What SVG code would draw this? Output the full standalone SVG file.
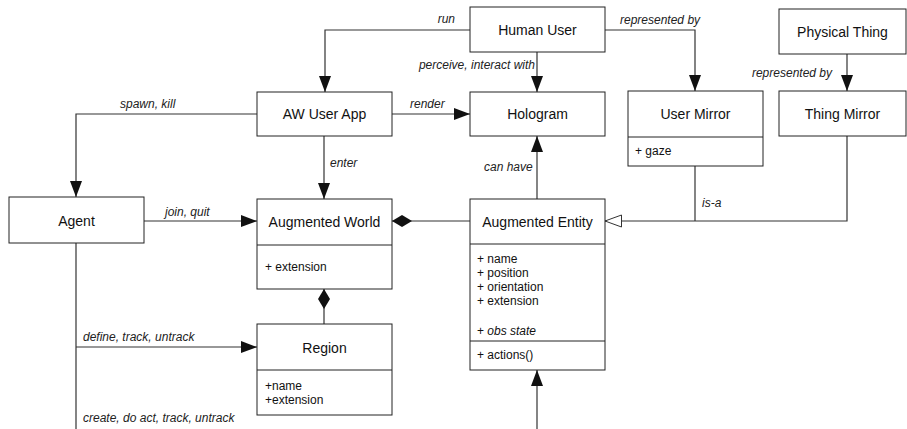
<svg xmlns="http://www.w3.org/2000/svg" width="907" height="429" viewBox="0 0 907 429">
<style>
.box{fill:#fff;stroke:#222;stroke-width:1}
.div{stroke:#222;stroke-width:1}
.t{font-family:"Liberation Sans",Arial,sans-serif;font-size:14px;fill:#111;text-anchor:middle}
.a{font-family:"Liberation Sans",Arial,sans-serif;font-size:12px;fill:#111}
.l{font-family:"Liberation Sans",Arial,sans-serif;font-size:12px;font-style:italic;fill:#222}
.c{fill:none;stroke:#333;stroke-width:1.2}
</style>
<defs>
<marker id="arr" markerUnits="userSpaceOnUse" markerWidth="16" markerHeight="12" refX="16" refY="6" orient="auto"><path d="M0,0 L16,6 L0,12 z" fill="#111"/></marker>
<marker id="dia" markerUnits="userSpaceOnUse" markerWidth="20" markerHeight="12" refX="0" refY="6" orient="auto"><path d="M0,6 L10,0 L20,6 L10,12 z" fill="#111"/></marker>
<marker id="tri" markerUnits="userSpaceOnUse" markerWidth="18" markerHeight="14" refX="17" refY="7" orient="auto"><path d="M0.5,1 L17,7 L0.5,13 z" fill="#fff" stroke="#333" stroke-width="1"/></marker>
</defs>
<g id="connectors">
<path class="c" d="M470,30 H325 V92" marker-end="url(#arr)"/>
<path class="c" d="M537,52 V92" marker-end="url(#arr)"/>
<path class="c" d="M605,30 H695 V91" marker-end="url(#arr)"/>
<path class="c" d="M847,54 V91" marker-end="url(#arr)"/>
<path class="c" d="M392,114 H470" marker-end="url(#arr)"/>
<path class="c" d="M324,136 V199" marker-end="url(#arr)"/>
<path class="c" d="M257,114 H76 V197" marker-end="url(#arr)"/>
<path class="c" d="M144,221 H257" marker-end="url(#arr)"/>
<path class="c" d="M392,221 H470" marker-start="url(#dia)"/>
<path class="c" d="M537,199 V136" marker-end="url(#arr)"/>
<path class="c" d="M324,289 V324" marker-start="url(#dia)"/>
<path class="c" d="M76,243 V429"/>
<path class="c" d="M76,347 H257" marker-end="url(#arr)"/>
<path class="c" d="M537,429 V370" marker-end="url(#arr)"/>
<path class="c" d="M695,166 V221"/>
<path class="c" d="M847,136 V221 H605" marker-end="url(#tri)"/>
<text class="l" x="455" y="23" text-anchor="end">run</text>
<text class="l" x="535" y="69" text-anchor="end">perceive, interact with</text>
<text class="l" x="620" y="24">represented by</text>
<text class="l" x="832" y="77" text-anchor="end">represented by</text>
<text class="l" x="410" y="108">render</text>
<text class="l" x="120" y="108">spawn, kill</text>
<text class="l" x="330" y="167">enter</text>
<text class="l" x="165" y="216">join, quit</text>
<text class="l" x="484" y="171">can have</text>
<text class="l" x="702" y="207">is-a</text>
<text class="l" x="83" y="341">define, track, untrack</text>
<text class="l" x="83" y="422">create, do act, track, untrack</text>
</g>
<g id="human-user"><rect class="box" x="470" y="7" width="135" height="45"/><text class="t" x="537.5" y="35">Human User</text></g>
<g id="physical-thing"><rect class="box" x="779" y="9" width="127" height="45"/><text class="t" x="842.5" y="37">Physical Thing</text></g>
<g id="aw-user-app"><rect class="box" x="257" y="92" width="135" height="44"/><text class="t" x="324.5" y="119">AW User App</text></g>
<g id="hologram"><rect class="box" x="470" y="92" width="135" height="44"/><text class="t" x="537.5" y="119">Hologram</text></g>
<g id="user-mirror"><rect class="box" x="628" y="91" width="135" height="75"/><line class="div" x1="628" y1="137" x2="763" y2="137"/><text class="t" x="695.5" y="119">User Mirror</text><text class="a" x="635" y="155">+ gaze</text></g>
<g id="thing-mirror"><rect class="box" x="779" y="91" width="127" height="45"/><text class="t" x="842.5" y="119">Thing Mirror</text></g>
<g id="agent"><rect class="box" x="9" y="197" width="135" height="46"/><text class="t" x="76.5" y="226">Agent</text></g>
<g id="augmented-world"><rect class="box" x="257" y="199" width="135" height="90"/><line class="div" x1="257" y1="245" x2="392" y2="245"/><text class="t" x="324.5" y="227">Augmented World</text><text class="a" x="265" y="271">+ extension</text></g>
<g id="augmented-entity"><rect class="box" x="470" y="199" width="135" height="171"/><line class="div" x1="470" y1="244" x2="605" y2="244"/><line class="div" x1="470" y1="341" x2="605" y2="341"/><text class="t" x="537.5" y="227">Augmented Entity</text><text class="a" x="477" y="263">+ name</text><text class="a" x="477" y="277">+ position</text><text class="a" x="477" y="291">+ orientation</text><text class="a" x="477" y="305">+ extension</text><text class="a" x="477" y="335">+ <tspan font-style="italic">obs state</tspan></text><text class="a" x="477" y="359">+ actions()</text></g>
<g id="region"><rect class="box" x="257" y="324" width="135" height="91"/><line class="div" x1="257" y1="370" x2="392" y2="370"/><text class="t" x="324.5" y="353">Region</text><text class="a" x="265" y="390">+name</text><text class="a" x="265" y="404">+extension</text></g>
</svg>
